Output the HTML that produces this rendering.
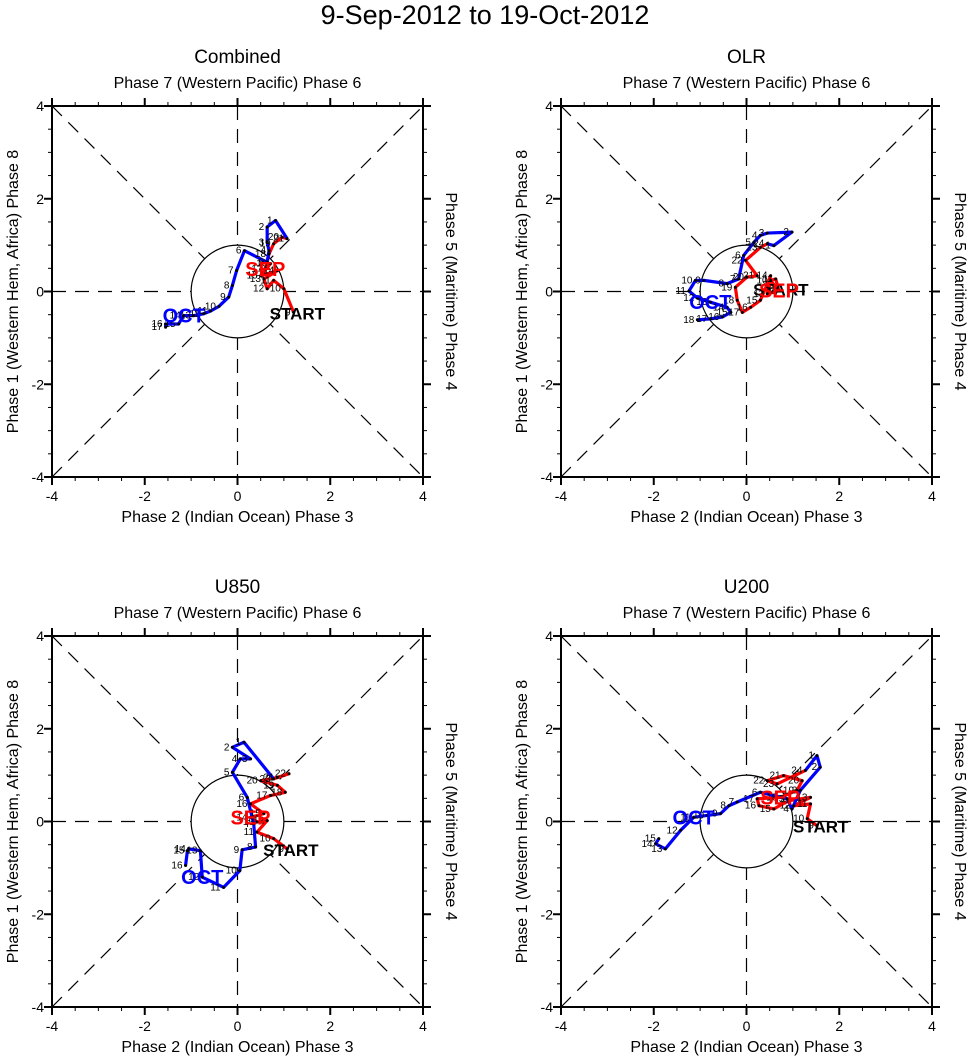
<!DOCTYPE html>
<html><head><meta charset="utf-8"><style>
html,body{margin:0;padding:0;background:#fff;}
svg{display:block;font-family:"Liberation Sans",Arial,sans-serif;}
</style></head><body>
<svg id="c" width="971" height="1059" viewBox="0 0 971 1059">
<text x="485" y="24" text-anchor="middle" font-size="27">9-Sep-2012 to 19-Oct-2012</text>
</svg>
<script>
const panelTitles=["Combined","OLR","U850","U200"];
const tickVals=[-4,-2,0,2,4];
const redCombX=[1.21,1.00,0.78,0.64,0.57,0.86,0.50,0.71,0.60,0.68,0.78,0.96,1.07];
const redCombY=[-0.45,0.06,0.24,0.06,0.27,0.45,0.34,0.60,0.49,0.81,1.03,1.17,1.14];
const blueCombX=[1.07,0.82,0.64,0.64,0.68,0.64,0.15,-0.02,-0.11,-0.19,-0.40,-0.58,-0.73,-0.94,-1.16,-1.27,-1.55,-1.55];
const blueCombY=[1.14,1.53,1.39,1.06,0.88,0.63,0.88,0.45,0.13,-0.12,-0.32,-0.42,-0.48,-0.52,-0.52,-0.70,-0.70,-0.77];
const redOlrX=[0.66,0.52,0.63,0.70,0.45,0.52,0.30,0.09,-0.09,-0.20,-0.24,0.01,0.23,-0.02,0.30,0.45];
const redOlrY=[0.06,0.24,0.27,0.02,-0.05,0.34,-0.19,-0.34,-0.45,-0.19,0.09,0.31,0.34,0.67,0.95,1.03];
const blueOlrX=[0.45,0.59,0.98,0.45,0.30,0.16,-0.06,-0.17,-0.42,-0.92,-1.10,-1.24,-1.06,-0.78,-0.42,-0.34,-0.52,-0.78,-1.06];
const blueOlrY=[1.03,0.99,1.28,1.26,1.21,1.06,0.78,0.27,0.17,0.24,0.24,0.01,-0.14,-0.23,-0.34,-0.45,-0.55,-0.59,-0.61];
const redU850X=[1.07,0.78,0.42,0.64,0.42,0.28,0.57,0.28,0.71,1.03,0.86,0.50,0.86,1.11,0.78];
const redU850Y=[-0.59,-0.37,-0.23,0.02,-0.01,0.09,0.17,0.38,0.56,0.63,0.78,0.88,0.95,1.03,0.92];
const blueU850X=[0.78,0.14,-0.11,0.28,0.06,-0.11,0.21,0.35,0.39,0.10,0.05,-0.30,-0.76,-0.80,-1.05,-1.08,-1.12];
const blueU850Y=[0.92,1.71,1.60,1.35,1.35,1.06,0.52,-0.05,-0.55,-0.61,-1.06,-1.42,-1.20,-0.63,-0.59,-0.63,-0.95];
const redU200X=[1.52,1.31,1.38,1.02,1.38,0.91,0.59,0.27,0.23,0.73,1.09,1.20,0.80,0.45,0.66,1.27];
const redU200Y=[-0.09,0.06,0.38,0.34,0.52,0.45,0.27,0.34,0.49,0.52,0.67,0.88,0.99,0.88,0.81,1.10];
const blueU200X=[1.27,1.52,1.59,1.16,0.98,0.88,0.30,-0.20,-0.38,-0.56,-0.85,-1.14,-1.42,-1.75,-1.96,-1.89];
const blueU200Y=[1.10,1.42,1.17,0.67,0.27,0.49,0.63,0.42,0.34,0.17,0.13,0.09,-0.19,-0.59,-0.48,-0.37];
const panelsRed=[[redCombX,redCombY],[redOlrX,redOlrY],[redU850X,redU850Y],[redU200X,redU200Y]];
const panelsBlue=[[blueCombX,blueCombY],[blueOlrX,blueOlrY],[blueU850X,blueU850Y],[blueU200X,blueU200Y]];
const sepIdx=[8,3,5,9];
const octIdx=[14,13,12,11];

const NS="http://www.w3.org/2000/svg";
const svg=document.getElementById('c');
function mk(tag,attrs,parent,txt){const e=document.createElementNS(NS,tag);for(const k in attrs)e.setAttribute(k,attrs[k]);if(txt!==undefined)e.textContent=txt;(parent||svg).appendChild(e);return e;}
const lefts=[52,561,52,561], tops=[106,106,636,636], W=371;
for(let p=0;p<4;p++){
  const L=lefts[p],T=tops[p],R=L+W,B=T+W;
  const sx=v=>L+(v+4)/8*W, sy=v=>B-(v+4)/8*W;
  const g=mk('g',{});
  
  
  const cx=L+W/2, cy=T+W/2;
  const t=mk('text',{x:cx,y:T-43,'text-anchor':'middle','font-size':19},g,panelTitles[p]);
  
  const t2=mk('text',{x:cx,y:T-18,'text-anchor':'middle','font-size':16},g,'Phase 7 (Western Pacific) Phase 6');
  
  const t3=mk('text',{x:cx,y:B+45,'text-anchor':'middle','font-size':16},g,'Phase 2 (Indian Ocean) Phase 3');
  
  const t4=mk('text',{x:0,y:0,'text-anchor':'middle','font-size':16,transform:`translate(${L-34},${cy}) rotate(-90)`},g,'Phase 1 (Western Hem, Africa) Phase 8');
  
  const t5=mk('text',{x:0,y:0,'text-anchor':'middle','font-size':16,transform:`translate(${R+23},${cy}) rotate(90)`},g,'Phase 5 (Maritime) Phase 4');
  
  const dash={stroke:'#000','stroke-width':1.2,'stroke-dasharray':'14,9',fill:'none'};
  mk('line',Object.assign({x1:L,y1:T,x2:R,y2:B},dash),g);
  mk('line',Object.assign({x1:L,y1:B,x2:R,y2:T},dash),g);
  mk('line',Object.assign({x1:L,y1:cy,x2:R,y2:cy},dash),g);
  mk('line',Object.assign({x1:cx,y1:T,x2:cx,y2:B},dash),g);
  mk('circle',{cx:cx,cy:cy,r:W/8,fill:'#fff',stroke:'#000','stroke-width':1.2},g);
  mk('rect',{x:L,y:T,width:W,height:W,fill:'none',stroke:'#000','stroke-width':2},g);
  for(let v=-4;v<=4;v+=0.5){
    const maj=(v%2===0), len=maj?8:4;
    mk('line',{x1:sx(v),y1:B,x2:sx(v),y2:B+len,stroke:'#000','stroke-width':maj?2:1},g);
    mk('line',{x1:sx(v),y1:T,x2:sx(v),y2:T-len,stroke:'#000','stroke-width':maj?2:1},g);
    mk('line',{x1:L,y1:sy(v),x2:L-len,y2:sy(v),stroke:'#000','stroke-width':maj?2:1},g);
    mk('line',{x1:R,y1:sy(v),x2:R+len,y2:sy(v),stroke:'#000','stroke-width':maj?2:1},g);
  }
  tickVals.forEach(v=>{
    const a=mk('text',{x:sx(v),y:B+24,'text-anchor':'middle','font-size':14},g,String(v));
    
    const b=mk('text',{x:L-8,y:sy(v)+5,'text-anchor':'end','font-size':14},g,String(v));
    
  });
  const [rx,ry]=panelsRed[p],[bx,by]=panelsBlue[p];
  const rl=mk('polyline',{points:rx.map((v,i)=>sx(v)+','+sy(ry[i])).join(' '),fill:'none',stroke:'#ff0000','stroke-width':3.2,'stroke-linejoin':'round'},g);
  
  const bl=mk('polyline',{points:bx.map((v,i)=>sx(v)+','+sy(by[i])).join(' '),fill:'none',stroke:'#0000ff','stroke-width':3.2,'stroke-linejoin':'round'},g);
  
  const pts=(xs,ys,start,off)=>xs.forEach((v,i)=>{
    if(off&&i===0)return;
    mk('circle',{cx:sx(v),cy:sy(ys[i]),r:1.5,fill:'#000'},g);
    const d=mk('text',{x:sx(v)-3,y:sy(ys[i])+3,'text-anchor':'end','font-size':10},g,String(start+i-(off?1:0)));
    
  });
  pts(rx,ry,9,false); pts(bx,by,1,true);
  const s=mk('text',{x:sx(rx[0])-24,y:sy(ry[0])+7,'font-size':17,'font-weight':'bold'},g,'START');
  
  const se=mk('text',{x:sx(rx[sepIdx[p]]),y:sy(ry[sepIdx[p]])+7,'text-anchor':'middle','font-size':20,'font-weight':'bold',fill:'#ff0000'},g,'SEP');
  
  const oc=mk('text',{x:sx(bx[octIdx[p]]),y:sy(by[octIdx[p]])+7,'text-anchor':'middle','font-size':20,'font-weight':'bold',fill:'#0000ff'},g,'OCT');
  
}
</script>
</body></html>
